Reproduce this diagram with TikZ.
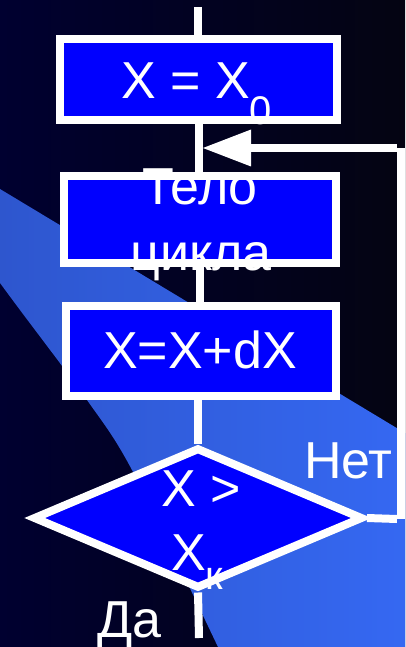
\documentclass[tikz,border=0pt]{standalone}
\usepackage{fontspec}
\setmainfont{Liberation Sans}
\usetikzlibrary{arrows.meta,shapes.geometric}
\definecolor{navy}{RGB}{0,0,48}
\definecolor{nightblack}{RGB}{4,4,18}
\definecolor{bandleft}{RGB}{46,86,206}
\definecolor{bandright}{RGB}{53,104,242}
\definecolor{boxblue}{RGB}{0,0,255}

\begin{document}
\begin{tikzpicture}[x=1pt,y=-1pt,
  flow/.style={draw=white, line width=8pt, fill=boxblue, inner sep=0pt},
  procbox/.style={flow, rectangle},
  decision/.style={flow, diamond},
  wire/.style={draw=white, line width=8pt},
  caption/.style={text=white, font=\fontsize{52}{62}\selectfont, inner sep=0pt},
]
\useasboundingbox (0,0) rectangle (405,647);

% background and the lighter diagonal band
\shade[left color=navy, right color=nightblack] (0,0) rectangle (405,647);
\shade[left color=bandleft, right color=bandright]
  (0,189) -- (405,433) -- (405,647)
  -- plot[smooth] coordinates {(218,647) (132,470) (87,400) (20,310) (0,283)}
  -- cycle;

% blocks
\node[procbox, minimum width=277pt, minimum height=81pt] (init) at (198,79.5) {};
\node[procbox, minimum width=272pt, minimum height=87pt] (body) at (200,219.5) {};
\node[procbox, minimum width=270pt, minimum height=90pt] (incr) at (200.5,350.75) {};
\node[decision, minimum width=330pt, minimum height=141pt] (test) at (198,518) {};

% free ends and corners of the loop
\coordinate (entry) at (198,7);
\coordinate (exit) at (199,638);
\coordinate (loopA) at (397,519);
\coordinate (loopB) at (401,519);
\coordinate (loopC) at (401,148);
\coordinate (loopD) at (397,148);
\coordinate (join) at (203,148);

% connectors
\draw[wire] (entry) -- (init.north);
\draw[wire] (199,124) -- (199,172);
\draw[wire] (body.south) -- (body.south |- incr.north);
\draw[wire] (incr.south -| test.north) -- (test.north);
\draw[wire] (test.south) -- (exit);
\draw[wire] (test.east) -- (loopA);
\draw[wire] (loopB) -- (loopC);
\draw[wire, -{Triangle[length=48pt,width=37pt,line width=0pt]}] (loopD) -- (join);

% texts
\node[caption, anchor=base west] (initlabel) at (121,99)
  {X = X\raisebox{-26pt}{\fontsize{40}{40}\selectfont 0}};
\node[caption, anchor=base] (bodylabelA) at (200,204) {Тело};
\node[caption, anchor=base] (bodylabelB) at (201,270) {цикла};
\node[caption, anchor=base] (incrlabel) at (200,368) {X=X+dX};
\node[caption, anchor=base] (testlabelA) at (201,506) {X >};
\node[caption, anchor=base west] (testlabelB) at (171,570)
  {X\raisebox{-19pt}{\fontsize{40}{40}\selectfont к}};
\node[caption, anchor=base west] (nolabel) at (304,478) {Нет};
\node[caption, anchor=base west] (yeslabel) at (97,637) {Да};
\end{tikzpicture}
\end{document}
